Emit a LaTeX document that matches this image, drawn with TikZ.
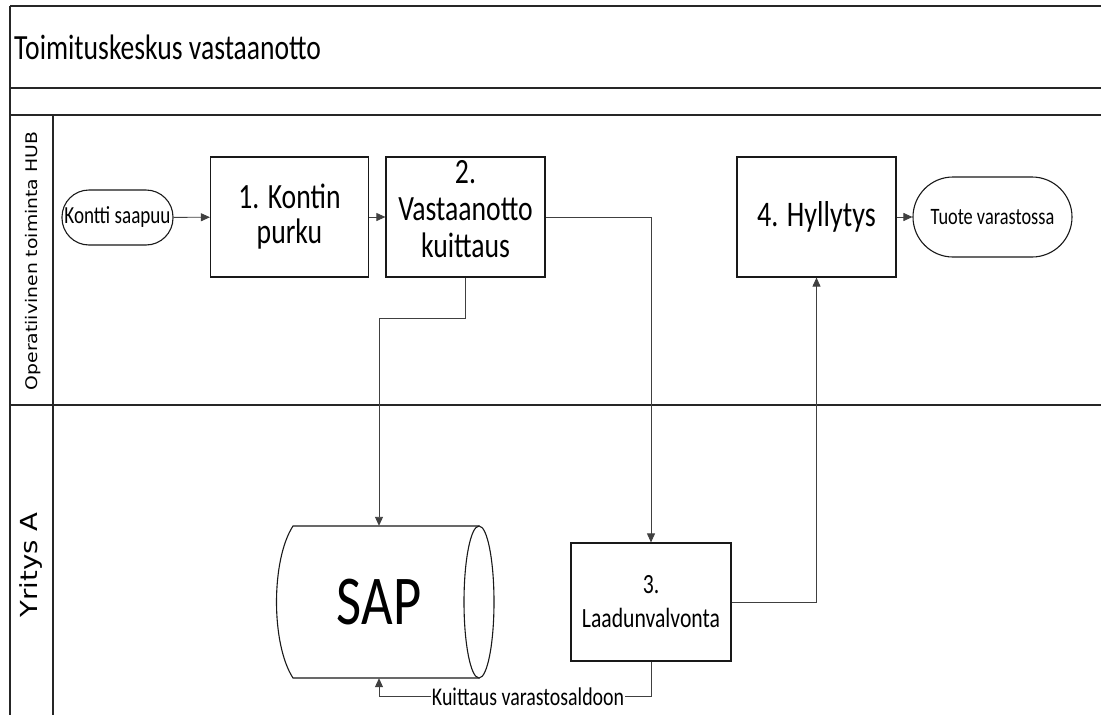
\documentclass[tikz,border=0pt]{standalone}
\usepackage{fontspec}
\setmainfont{Carlito}[FakeStretch=0.78]
\newfontfamily\lanefont{DejaVu Sans}
\usetikzlibrary{arrows.meta,calc}
\newcommand{\fsz}[2]{\fontsize{#1}{#2}\selectfont}
\begin{document}
\begin{tikzpicture}[x=1pt,y=-1pt,
  frameline/.style={draw=black!85, line width=1.7pt},
  proc/.style={draw=black!90, line width=1.2pt, fill=white, align=center, inner sep=0pt},
  term/.style={draw=black!90, line width=1.1pt, fill=white, align=center, inner sep=0pt},
  conn/.style={draw=black!75, line width=0.9pt, -{Triangle[length=9pt,width=8pt]}},
  lbl/.style={fill=white, inner sep=1pt, font=\fsz{25.5}{28}},
]
\useasboundingbox (0,0) rectangle (1101,715);
\clip (0,0) rectangle (1101,715);
\fill[white] (0,0) rectangle (1101,715);

% frame and lanes
\draw[frameline] (10,6) -- (1120,6);
\draw[frameline] (10,6) -- (10,730);
\draw[draw=black!85, line width=2.3pt] (10,88) -- (1120,88);
\draw[frameline] (10,115) -- (1120,115);
\draw[frameline] (10,405) -- (1120,405);
\draw[frameline] (53,115) -- (53,730);

\node[anchor=west, inner sep=0pt, font=\fsz{35.4}{40}] (title) at (14,47) {Toimituskeskus vastaanotto};

\node[inner sep=0pt] (lane1) at (33,261) {\rotatebox{90}{\scalebox{1}[0.85]{\lanefont\fsz{18.8}{22}Operatiivinen toiminta HUB}}};
\node[inner sep=0pt] (lane2) at (31,565) {\rotatebox{90}{\scalebox{1}[0.85]{\lanefont\fsz{27.6}{30}Yritys A}}};

% nodes
\node[term, minimum width=111pt, minimum height=55pt, rounded corners=27pt, font=\fsz{24.5}{28}] (start) at (117.5,217.5) {Kontti saapuu};
\node[proc, minimum width=158pt, minimum height=120pt, font=\fsz{35.5}{35}] (box1) at (289.5,217) {1. Kontin\\purku};
\node[proc, minimum width=159pt, minimum height=120pt] (box2) at (465.5,217) {};
\node[align=center, inner sep=0pt, font=\fsz{35.5}{37}] (box2text) at (465.5,209) {2.\\Vastaanotto\\kuittaus};
\node[proc, minimum width=159pt, minimum height=120pt, font=\fsz{36}{38}] (box4) at (816.5,217) {4. Hyllytys};
\node[term, minimum width=159pt, minimum height=80pt, rounded corners=40pt, font=\fsz{23.5}{28}] (tuote) at (992.5,217) {Tuote varastossa};
\node[proc, minimum width=160pt, minimum height=118pt, font=\fsz{27.8}{34}] (box3) at (651,602) {3.\\Laadunvalvonta};

% SAP stored data shape
\draw[draw=black!90, line width=1.1pt, fill=white]
  (293,526) -- (479,526) -- (479,678) -- (293,678)
  .. controls (271,644) and (271,560) .. (293,526) -- cycle;
\draw[draw=black!90, line width=1.1pt, fill=white] (479,602) ellipse [x radius=15, y radius=76];
\node[inner sep=0pt, minimum height=152pt, minimum width=10pt, font=\fsz{70}{74}] (sap) at (379,602) {SAP};

% connectors
\draw[conn] (start) -- (box1);
\draw[conn] (box1) -- (box2);
\draw[conn] (box2.east) -| (box3.north);
\draw[conn] (box2.south) -- ++(0,41) -| (sap.north);
\draw[conn] (box3.east) -| (box4.south);
\draw[conn] (box4) -- (tuote);
\draw[conn] (box3.south) -- ++(0,35) -| node[lbl, pos=0.226] {Kuittaus varastosaldoon} (sap.south);
\end{tikzpicture}
\end{document}
